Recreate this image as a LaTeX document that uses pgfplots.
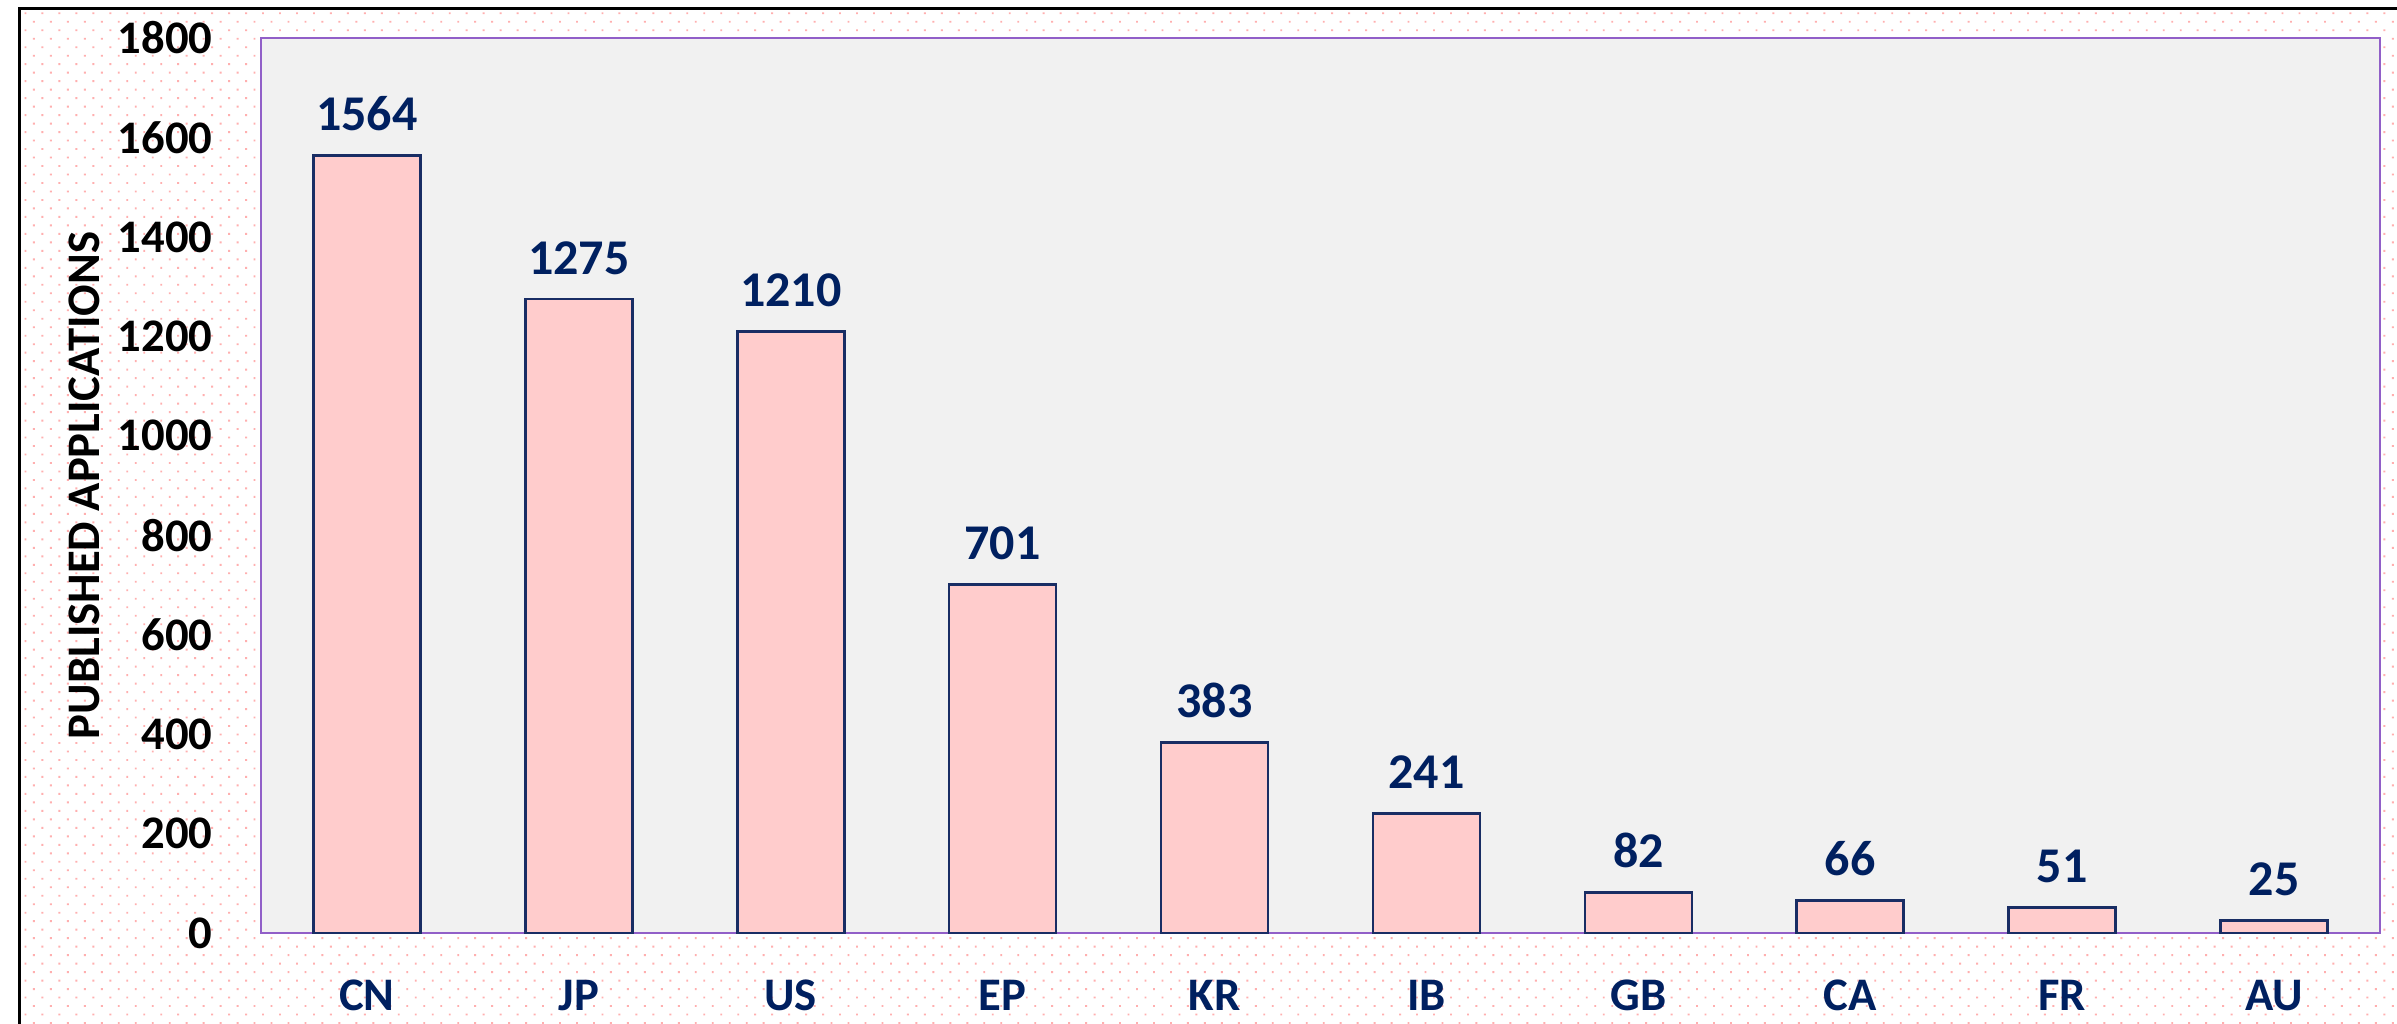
\documentclass[border=0pt]{standalone}
\usepackage{fontspec}
\setmainfont{Carlito}
\usepackage{pgfplots}
\pgfplotsset{compat=1.18}
\usetikzlibrary{patterns.meta}
\definecolor{navy}{RGB}{0,32,96}
\definecolor{barfill}{RGB}{255,204,204}
\definecolor{baredge}{RGB}{25,45,100}
\definecolor{frame}{RGB}{145,95,200}
\definecolor{plotbg}{RGB}{241,241,241}
\definecolor{dotpink}{RGB}{255,175,175}

\begin{document}
\begin{tikzpicture}
% page frame, 1px = 0.3pt
\begin{scope}[x=0.3pt,y=0.3pt]
\useasboundingbox (0,0) rectangle (2397,1023);
\clip (0,0) rectangle (2397,1023);
\fill[white] (0,0) rectangle (2397,1023);
\fill[pattern={Dots[distance=3.6pt,angle=45,radius=0.4pt]}, pattern color=dotpink] (19,0) rectangle (2397,1014);
\draw[line width=0.9pt] (19,-20) -- (19,1014) -- (2420,1014);
\end{scope}
\begin{axis}[
    at={(78.3pt,27pt)}, anchor=south west,
    scale only axis,
    width=635.7pt, height=268.5pt,
    xmin=-0.5, xmax=9.5,
    ymin=0, ymax=1800,
    xtick={0,...,9},
    xticklabels={CN,JP,US,EP,KR,IB,GB,CA,FR,AU},
    ytick={0,200,...,1800},
    major tick length=0pt,
    axis line style={draw=frame, line width=0.8pt},
    axis background/.style={fill=plotbg},
    /pgf/number format/1000 sep={},
    /pgf/number format/assume math mode=true,
    ybar, bar width=32.1pt,
    nodes near coords,
    nodes near coords style={font=\fontsize{15}{17}\selectfont\bfseries, text=navy, anchor=south, inner sep=0pt, yshift=7pt},
    xticklabel style={font=\fontsize{14}{16}\selectfont\bfseries, text=navy, anchor=base, inner sep=0pt, yshift=-23.1pt},
    yticklabel style={font=\fontsize{14}{16}\selectfont\bfseries, anchor=east, inner sep=0pt, xshift=-14.4pt},
    ylabel={PUBLISHED APPLICATIONS},
    ylabel style={at={(axis description cs:-0.0835,0.5)}, anchor=center, font=\fontsize{14}{16}\selectfont\bfseries},
]
\addplot[fill=barfill, draw=baredge, line width=0.8pt] coordinates {
    (0,1564) (1,1275) (2,1210) (3,701) (4,383)
    (5,241) (6,82) (7,66) (8,51) (9,25)
};
\end{axis}
\end{tikzpicture}
\end{document}
